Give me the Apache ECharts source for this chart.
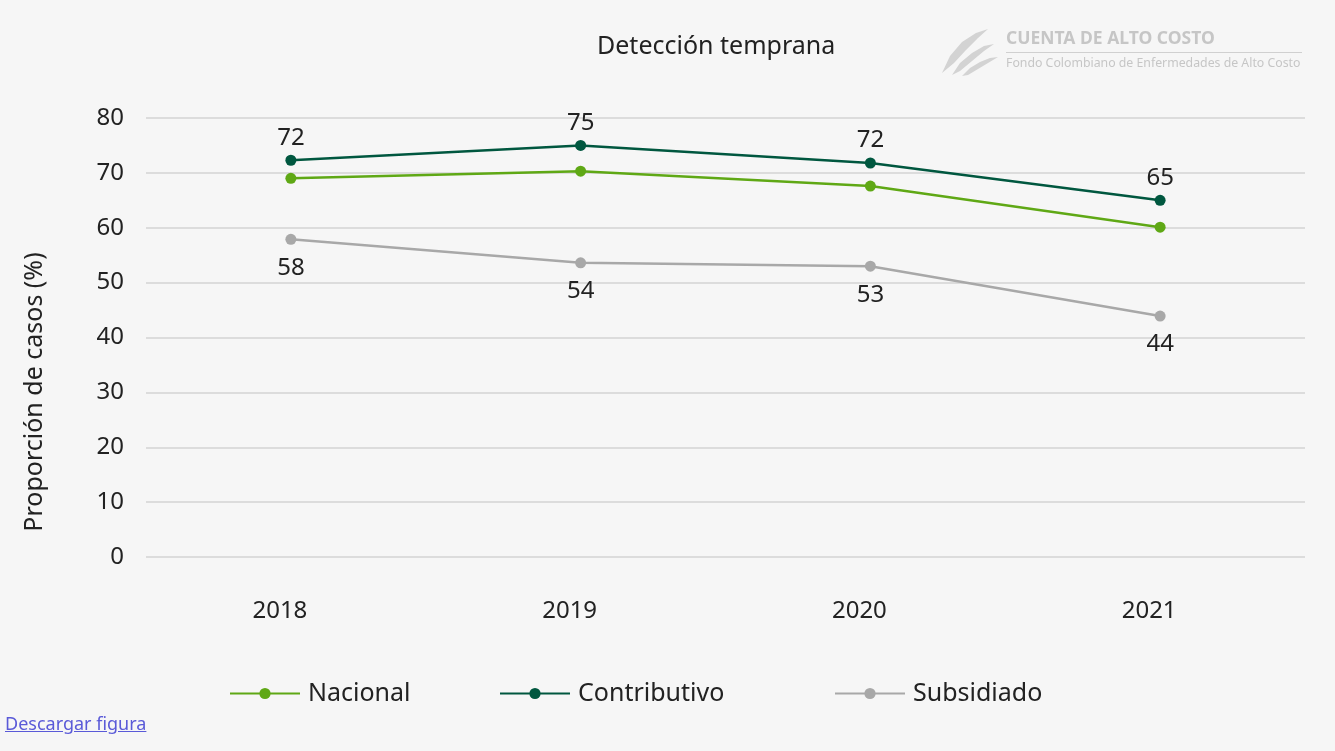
<!DOCTYPE html>
<html><head><meta charset="utf-8">
<script src="https://cdn.jsdelivr.net/npm/echarts@6/dist/echarts.min.js"></script>
<style>
html,body{margin:0;padding:0;background:#f6f6f6;}
#c{width:1335px;height:751px;}
#dl{position:absolute;left:5px;top:711px;font-family:"Noto Sans",sans-serif;font-size:18px;color:#5a5ad8;text-decoration:underline;}
</style></head>
<body>
<div id="c"></div>
<a id="dl" href="#">Descargar figura</a>
<script>
const years = ['2018','2019','2020','2021'];
const nacional = [69.0, 70.3, 67.6, 60.1];
const contributivo = [72.3, 75.0, 71.8, 65.0];
const subsidiado = [57.9, 53.6, 53.0, 43.9];
const yTicks = [0,10,20,30,40,50,60,70,80];
const seriesNames = ['Nacional','Contributivo','Subsidiado'];

const FONT = '"Noto Sans", Lato, sans-serif';
const legendLefts = [224, 494, 829];
const chart = echarts.init(document.getElementById('c'));
chart.setOption({
  backgroundColor: '#f6f6f6',
  textStyle: {fontFamily: FONT},
  title: {text: 'Detección temprana', left: 592, top: 29, textStyle: {fontFamily: FONT, fontSize: 25, fontWeight: 'normal', color: '#222'}},
  grid: {left: 146, right: 30, top: 118, bottom: 194},
  xAxis: {type: 'category', data: years, boundaryGap: true,
    axisLine: {show: false}, axisTick: {show: false},
    axisLabel: {fontSize: 24, color: '#222', margin: 42, fontFamily: FONT, padding: [0, 22, 0, 0]}},
  yAxis: {type: 'value', min: 0, max: 80, interval: 10,
    axisLine: {show: false}, axisTick: {show: false},
    splitLine: {lineStyle: {color: '#dcdcdc', width: 2}},
    axisLabel: {fontSize: 24, color: '#222', margin: 22, fontFamily: FONT,
      formatter: v => yTicks.includes(v) ? String(v) : ''}},
  legend: seriesNames.map((n, i) => ({
    bottom: 40, left: legendLefts[i], itemWidth: 70, itemHeight: 14,
    textStyle: {fontSize: 25, color: '#222', fontFamily: FONT, padding: [0, 0, 0, 3]},
    data: [n]})),
  graphic: [
    {type: 'text', rotation: Math.PI/2, x: 35, y: 392,
      style: {text: 'Proporción de casos (%)', font: '25px ' + FONT, fill: '#222', textAlign: 'center', textVerticalAlign: 'middle'}},
    {type: 'polygon', shape: {points: [[942,73],[950,56],[962,42],[976,33],[988,29],[978,38],[966,50],[954,63]]}, style: {fill: '#d3d3d3'}},
    {type: 'polygon', shape: {points: [[952,75],[960,63],[972,53],[984,46],[994,44],[984,51],[972,61],[960,71]]}, style: {fill: '#d3d3d3'}},
    {type: 'polygon', shape: {points: [[962,76],[970,68],[980,62],[990,58],[998,57],[988,63],[978,69],[968,75]]}, style: {fill: '#d3d3d3'}},
    {type: 'text', x: 1006, y: 30, style: {text: 'CUENTA DE ALTO COSTO', font: 'bold 17.5px ' + FONT, fill: '#c6c6c6'}},
    {type: 'rect', shape: {x: 1006, y: 52, width: 296, height: 1}, style: {fill: '#d0d0d0'}},
    {type: 'text', x: 1006, y: 57, style: {text: 'Fondo Colombiano de Enfermedades de Alto Costo', font: '12.3px ' + FONT, fill: '#c6c6c6'}}
  ],
  series: [
    {name: 'Nacional', type: 'line', data: nacional, color: '#5fa815', symbol: 'circle', symbolSize: 11,
      lineStyle: {width: 2.5}, label: {show: false}},
    {name: 'Contributivo', type: 'line', data: contributivo, color: '#00573f', symbol: 'circle', symbolSize: 11,
      lineStyle: {width: 2.5},
      label: {show: true, position: 'top', distance: 5, fontSize: 24, color: '#222', fontFamily: FONT, formatter: p => Math.round(p.value)}},
    {name: 'Subsidiado', type: 'line', data: subsidiado, color: '#a8a8a8', symbol: 'circle', symbolSize: 11,
      lineStyle: {width: 2.5},
      label: {show: true, position: 'bottom', distance: 11, fontSize: 24, color: '#222', fontFamily: FONT, formatter: p => Math.round(p.value)}}
  ]
});
</script>
</body></html>
